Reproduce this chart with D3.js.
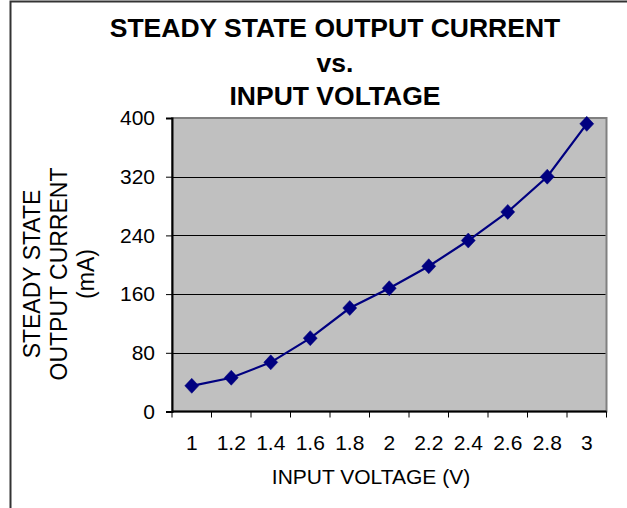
<!DOCTYPE html>
<html>
<head>
<meta charset="utf-8">
<script src="https://cdn.jsdelivr.net/npm/d3@7"></script>
<style>
  html, body { margin: 0; padding: 0; background: #fff; }
  svg { display: block; font-family: Arial, "Liberation Sans", sans-serif; }
</style>
</head>
<body>
<svg id="chart" width="627" height="508"></svg>
<script>
const voltages = ["1", "1.2", "1.4", "1.6", "1.8", "2", "2.2", "2.4", "2.6", "2.8", "3"];
const current = [35, 46, 67, 100, 141, 168, 198, 233, 272, 320, 392];
const yTicks = [0, 80, 160, 240, 320, 400];
const titleLines = ["STEADY STATE OUTPUT CURRENT", "vs.", "INPUT VOLTAGE"];
const yTitleLines = ["STEADY STATE", "OUTPUT CURRENT", "(mA)"];
const xTitle = "INPUT VOLTAGE (V)";

const svg = d3.select("#chart");
const width = +svg.attr("width");
const height = +svg.attr("height");

const plot = { left: 172, right: 606.5, top: 118, bottom: 411.5 };

const x = d3.scaleBand().domain(voltages).range([plot.left, plot.right]).padding(0);
const y = d3.scaleLinear().domain([0, 400]).range([plot.bottom, plot.top]);

// outer frame (only left/top visible in the picture)
svg.append("rect")
  .attr("x", 10.5).attr("y", 1.5)
  .attr("width", width + 20).attr("height", height + 20)
  .attr("fill", "#fff")
  .attr("stroke", "#333")
  .attr("stroke-width", 2);

// title
svg.append("g").selectAll("text").data(titleLines)
  .enter().append("text")
    .attr("x", 335)
    .attr("y", (d, i) => [37, 72, 105][i])
    .attr("text-anchor", "middle")
    .style("font-size", "26.5px")
    .style("font-weight", "bold")
    .text(d => d);

// plot area
svg.append("rect")
  .attr("x", plot.left).attr("y", plot.top)
  .attr("width", plot.right - plot.left).attr("height", plot.bottom - plot.top)
  .attr("fill", "#c0c0c0")
  .attr("stroke", "#808080")
  .attr("stroke-width", 2);

// gridlines
svg.append("g").selectAll("line").data(yTicks.filter(d => d > 0 && d < 400))
  .enter().append("line")
    .attr("x1", plot.left).attr("x2", plot.right - 1)
    .attr("y1", d => Math.round(y(d)) + 0.5)
    .attr("y2", d => Math.round(y(d)) + 0.5)
    .attr("stroke", "#000")
    .attr("stroke-width", 1);

// y axis
const yAxis = svg.append("g")
  .attr("transform", `translate(${plot.left},0)`)
  .call(d3.axisLeft(y).tickValues(yTicks).tickSize(6).tickPadding(11));
yAxis.select(".domain").attr("stroke", "#000").attr("stroke-width", 2);
yAxis.selectAll("text")
  .style("font-size", "21px")
  .style("font-family", "Arial, 'Liberation Sans', sans-serif")
  .attr("fill", "#000");

// x axis: ticks on category boundaries, labels centered in categories
const xb = svg.append("g");
xb.append("line")
  .attr("x1", plot.left).attr("x2", plot.right)
  .attr("y1", plot.bottom).attr("y2", plot.bottom)
  .attr("stroke", "#000").attr("stroke-width", 2);
xb.selectAll(".tick").data(d3.range(voltages.length + 1))
  .enter().append("line")
    .attr("class", "tick")
    .attr("x1", i => i < voltages.length ? x(voltages[i]) : x(voltages[i - 1]) + x.bandwidth())
    .attr("x2", i => i < voltages.length ? x(voltages[i]) : x(voltages[i - 1]) + x.bandwidth())
    .attr("y1", plot.bottom).attr("y2", plot.bottom + 6)
    .attr("stroke", "#000");
xb.selectAll(".lbl").data(voltages)
  .enter().append("text")
    .attr("class", "lbl")
    .attr("x", d => x(d) + x.bandwidth() / 2)
    .attr("y", 450)
    .attr("text-anchor", "middle")
    .style("font-size", "21px")
    .text(d => d);

// axis titles
svg.append("text")
  .attr("x", 371).attr("y", 484)
  .attr("text-anchor", "middle")
  .style("font-size", "21px")
  .text(xTitle);

svg.append("g")
  .attr("transform", "translate(40,274) rotate(-90)")
  .selectAll("text").data(yTitleLines)
  .enter().append("text")
    .attr("x", 0)
    .attr("y", (d, i) => i * 27)
    .attr("text-anchor", "middle")
    .style("font-size", "23px")
    .text(d => d);

// series
const pts = voltages.map((v, i) => ({ v: v, c: current[i] }));
const line = d3.line()
  .x(d => x(d.v) + x.bandwidth() / 2)
  .y(d => y(d.c));

svg.append("path")
  .datum(pts)
  .attr("d", line)
  .attr("fill", "none")
  .attr("stroke", "#000080")
  .attr("stroke-width", 2.2);

svg.append("g").selectAll("path").data(pts)
  .enter().append("path")
    .attr("transform", d => `translate(${x(d.v) + x.bandwidth() / 2},${y(d.c)})`)
    .attr("d", "M0,-7.5L7,0L0,7.5L-7,0Z")
    .attr("fill", "#000080")
    .attr("stroke", "#000080")
    .attr("stroke-width", 0.5);
</script>
</body>
</html>
